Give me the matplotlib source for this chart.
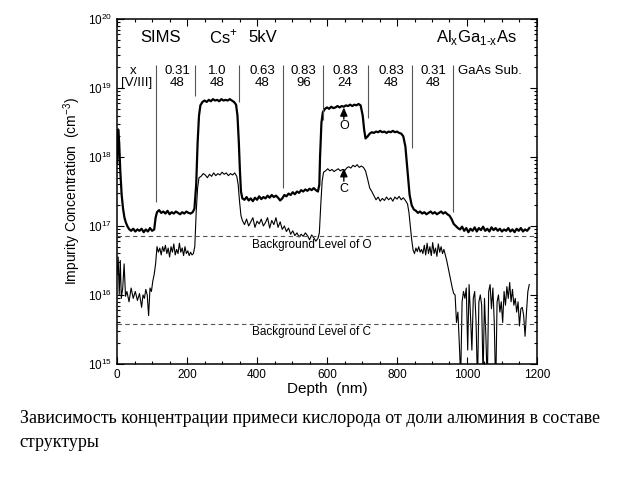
import numpy as np
import matplotlib.pyplot as plt
from matplotlib.ticker import MultipleLocator, LogLocator, NullFormatter

plt.rcParams['font.family'] = ['Liberation Sans', 'DejaVu Sans']
plt.rcParams['mathtext.fontset'] = 'custom'
plt.rcParams['mathtext.rm'] = 'Liberation Sans'

# oxygen profile: (depth nm, log10 concentration)
o_profile = [
    (0, 17.9), (3, 18.4), (6, 18.2), (9, 17.8), (13, 17.45), (17, 17.25), (21, 17.12), (25, 17.05),
    (30, 16.99), (35, 16.95), (40, 16.93), (46, 16.96), (52, 16.92), (58, 16.95), (64, 16.93),
    (70, 16.96), (76, 16.91), (82, 16.95), (88, 16.92), (94, 16.97), (100, 16.93), (106, 16.95),
    (110, 17.12), (114, 17.2), (120, 17.23), (126, 17.19), (132, 17.21), (138, 17.18), (144, 17.22),
    (150, 17.17), (156, 17.2), (162, 17.18), (168, 17.21), (174, 17.19), (180, 17.17), (186, 17.2),
    (192, 17.18), (198, 17.21), (204, 17.19), (210, 17.18), (216, 17.2), (221, 17.25),
    (226, 17.6), (230, 18.2), (234, 18.6), (238, 18.75), (244, 18.8), (250, 18.82), (256, 18.8),
    (262, 18.83), (268, 18.81), (274, 18.84), (280, 18.82), (286, 18.83), (292, 18.81), (298, 18.84),
    (304, 18.82), (310, 18.83), (316, 18.82), (322, 18.84), (328, 18.82), (334, 18.8), (340, 18.76),
    (344, 18.6), (348, 18.2), (351, 17.8), (354, 17.5), (358, 17.4),
    (364, 17.38), (370, 17.42), (376, 17.37), (382, 17.4), (388, 17.36), (394, 17.41), (400, 17.38),
    (406, 17.43), (412, 17.39), (418, 17.42), (424, 17.4), (430, 17.44), (436, 17.41), (442, 17.45),
    (448, 17.42), (454, 17.44), (460, 17.41), (466, 17.37), (472, 17.4), (478, 17.45), (484, 17.43),
    (490, 17.47), (496, 17.45), (502, 17.49), (508, 17.46), (514, 17.5), (520, 17.48), (526, 17.52),
    (532, 17.5), (538, 17.53), (544, 17.51), (550, 17.54), (556, 17.52), (562, 17.55), (568, 17.52),
    (574, 17.5), (578, 17.6),
    (580, 18.0), (584, 18.5), (588, 18.65), (594, 18.7), (600, 18.72), (606, 18.7), (612, 18.73),
    (618, 18.71), (624, 18.72), (630, 18.74), (636, 18.72), (642, 18.74), (648, 18.73), (654, 18.75),
    (660, 18.74), (666, 18.76), (672, 18.74), (678, 18.76), (684, 18.75), (690, 18.77), (696, 18.75),
    (702, 18.6), (706, 18.4), (710, 18.27), (716, 18.3), (722, 18.34), (728, 18.36), (734, 18.35),
    (740, 18.37), (746, 18.36), (752, 18.38), (758, 18.36), (764, 18.37), (770, 18.35), (776, 18.37),
    (782, 18.36), (788, 18.38), (794, 18.36), (800, 18.37), (806, 18.35), (812, 18.34), (818, 18.3),
    (824, 18.15), (830, 17.8), (836, 17.45), (842, 17.3), (848, 17.24),
    (854, 17.22), (860, 17.19), (866, 17.21), (872, 17.18), (878, 17.2), (884, 17.17), (890, 17.19),
    (896, 17.21), (902, 17.18), (908, 17.2), (914, 17.17), (920, 17.19), (926, 17.21), (932, 17.18),
    (938, 17.2), (944, 17.17), (950, 17.15), (956, 17.1), (962, 17.03), (968, 17.0), (974, 16.97),
    (980, 16.95), (986, 16.99), (992, 16.93), (998, 16.97), (1004, 16.91), (1010, 16.96), (1016, 16.93),
    (1022, 16.98), (1028, 16.92), (1034, 16.97), (1040, 16.94), (1046, 16.99), (1052, 16.93),
    (1058, 16.96), (1064, 16.92), (1070, 16.98), (1076, 16.94), (1082, 16.97), (1088, 16.93),
    (1094, 16.96), (1100, 16.92), (1106, 16.95), (1112, 16.93), (1118, 16.97), (1124, 16.92),
    (1130, 16.95), (1136, 16.91), (1142, 16.96), (1148, 16.93), (1154, 16.97), (1160, 16.92),
    (1166, 16.95), (1172, 16.93), (1178, 16.97),
]

# carbon profile: (depth nm, log10 concentration)
c_profile = [
    (0, 16.3), (3, 16.55), (6, 16.0), (9, 16.5), (12, 15.95), (16, 16.1), (20, 16.45), (24, 15.98),
    (28, 16.05), (34, 15.9), (40, 16.1), (46, 15.95), (52, 16.05), (58, 15.92), (64, 16.02),
    (70, 15.82), (74, 16.0), (78, 15.95), (82, 16.08), (86, 16.0), (90, 15.7), (94, 16.1),
    (98, 16.05), (102, 16.2), (106, 16.3),
    (110, 16.45), (114, 16.7), (118, 16.62), (122, 16.68), (126, 16.58), (130, 16.7), (134, 16.63),
    (138, 16.72), (142, 16.6), (146, 16.68), (150, 16.55), (154, 16.7), (158, 16.62), (162, 16.74),
    (166, 16.58), (170, 16.66), (174, 16.6), (178, 16.75), (182, 16.62), (186, 16.68), (190, 16.57),
    (194, 16.7), (198, 16.6), (202, 16.64), (206, 16.57), (210, 16.62), (214, 16.58), (218, 16.6),
    (222, 16.7),
    (226, 17.2), (230, 17.55), (234, 17.7), (240, 17.72), (246, 17.76), (252, 17.74), (258, 17.7),
    (264, 17.75), (270, 17.72), (276, 17.77), (282, 17.73), (288, 17.76), (294, 17.74), (300, 17.78),
    (306, 17.75), (312, 17.77), (318, 17.73), (324, 17.76), (330, 17.74), (336, 17.77), (342, 17.72),
    (346, 17.6), (350, 17.35), (354, 17.15),
    (358, 17.08), (364, 17.02), (370, 17.1), (376, 17.0), (382, 17.06), (388, 17.12), (394, 16.98),
    (400, 17.07), (406, 17.03), (412, 17.1), (418, 17.0), (424, 17.05), (430, 17.12), (436, 16.97),
    (442, 17.08), (448, 17.02), (454, 17.12), (460, 16.98), (466, 17.06), (472, 16.95), (478, 17.0),
    (484, 16.92), (490, 16.97), (496, 16.88), (502, 16.93), (508, 16.86), (514, 16.9), (520, 16.84),
    (526, 16.88), (532, 16.85), (538, 16.9), (544, 16.86), (550, 16.8), (556, 16.87), (562, 16.83),
    (568, 16.78), (574, 16.82), (578, 16.9),
    (582, 17.3), (586, 17.65), (590, 17.78), (596, 17.8), (602, 17.83), (608, 17.8), (614, 17.82),
    (620, 17.79), (626, 17.81), (632, 17.83), (638, 17.8), (644, 17.82), (650, 17.8), (656, 17.84),
    (662, 17.86), (668, 17.84), (674, 17.88), (680, 17.86), (686, 17.89), (692, 17.85), (698, 17.87),
    (704, 17.85), (710, 17.8), (716, 17.68), (722, 17.55), (728, 17.5), (734, 17.44),
    (740, 17.38), (746, 17.42), (752, 17.36), (758, 17.4), (764, 17.37), (770, 17.42), (776, 17.38),
    (782, 17.41), (788, 17.36), (794, 17.42), (800, 17.39), (806, 17.43), (812, 17.38), (818, 17.41),
    (824, 17.37), (830, 17.32), (834, 17.2), (838, 17.0), (842, 16.8), (846, 16.65),
    (850, 16.6), (854, 16.68), (858, 16.63), (862, 16.7), (866, 16.62), (870, 16.66), (874, 16.6),
    (878, 16.72), (882, 16.58), (886, 16.75), (890, 16.6), (894, 16.7), (898, 16.57), (902, 16.76),
    (906, 16.6), (910, 16.68), (914, 16.56), (918, 16.74), (922, 16.62), (926, 16.7), (930, 16.6),
    (934, 16.66), (938, 16.58), (942, 16.5), (946, 16.4), (950, 16.3), (954, 16.2), (958, 16.1),
    (962, 16.02), (966, 16.0), (970, 15.6), (974, 15.75), (978, 15.3), (982, 14.8), (986, 15.9),
    (990, 16.05), (994, 15.95), (998, 16.1), (1002, 15.2), (1006, 16.15), (1010, 15.7), (1014, 15.2),
    (1018, 15.95), (1022, 16.05), (1026, 15.6), (1030, 14.7), (1034, 15.9), (1038, 16.0),
    (1042, 15.85), (1046, 14.8), (1050, 15.95), (1054, 15.4), (1058, 14.7), (1062, 16.05),
    (1066, 16.15), (1070, 15.8), (1074, 16.1), (1078, 15.6), (1082, 14.6), (1086, 15.9), (1090, 16.0),
    (1094, 15.75), (1098, 15.9), (1102, 15.6), (1106, 16.05), (1110, 15.85), (1114, 16.12),
    (1118, 15.95), (1122, 16.18), (1126, 15.9), (1130, 16.08), (1134, 15.85), (1138, 15.95),
    (1142, 15.75), (1146, 15.9), (1150, 15.55), (1154, 15.8), (1158, 15.82), (1162, 15.7),
    (1166, 15.4), (1170, 15.75), (1174, 16.05), (1178, 16.15),
]

# layer boundaries (depth, log10 of lower end)
boundary_depth = [110, 223, 349, 474, 588, 718, 842, 961]
boundary_low = [17.35, 18.88, 18.8, 17.55, 18.54, 18.56, 18.13, 17.2]

layer_x = ['0.31', '1.0', '0.63', '0.83', '0.83', '0.83', '0.31']
layer_ratio = ['48', '48', '48', '96', '24', '48', '48']
layer_center = [171, 286, 414, 533, 651, 783, 903]

bg_oxygen = 7.2e16
bg_carbon = 3.8e15

o_depth, o_log = zip(*o_profile)
c_depth, c_log = zip(*c_profile)

fig = plt.figure(figsize=(6.4, 4.8), dpi=100)
ax = fig.add_axes([0.183, 0.242, 0.656, 0.718])

ax.plot(o_depth, 10 ** np.array(o_log), color='black', lw=1.6)
ax.plot(c_depth, 10 ** np.array(c_log), color='black', lw=0.8)

ax.axhline(bg_oxygen, color='#555555', lw=0.8, ls=(0, (4, 3)))
ax.axhline(bg_carbon, color='#555555', lw=0.8, ls=(0, (4, 3)))
ax.text(555, 10 ** 16.72, 'Background Level of O', ha='center', va='center', fontsize=8.5)
ax.text(555, 10 ** 15.46, 'Background Level of C', ha='center', va='center', fontsize=8.5)

ax.vlines(boundary_depth, 10 ** np.array(boundary_low), 10 ** 19.33, color='#555555', lw=0.8)

ax.text(46, 10 ** 19.25, 'x', ha='center', va='center', fontsize=9.5)
ax.text(57, 10 ** 19.08, '[V/III]', ha='center', va='center', fontsize=9.5)
for xc, a, r in zip(layer_center, layer_x, layer_ratio):
    ax.text(xc, 10 ** 19.25, a, ha='center', va='center', fontsize=9.5)
    ax.text(xc, 10 ** 19.08, r, ha='center', va='center', fontsize=9.5)
ax.text(1066, 10 ** 19.25, 'GaAs Sub.', ha='center', va='center', fontsize=9.5)

ax.text(66, 10 ** 19.74, 'SIMS', ha='left', va='center', fontsize=12)
ax.text(262, 10 ** 19.74, r'Cs$^\mathregular{+}$', ha='left', va='center', fontsize=12)
ax.text(374, 10 ** 19.74, '5kV', ha='left', va='center', fontsize=12)
ax.text(1143, 10 ** 19.74, r'Al$_\mathregular{x}$Ga$_\mathregular{1\text{-}x}$As', ha='right', va='center', fontsize=12)

arrow_style = dict(arrowstyle='-|>,head_length=0.5,head_width=0.22', color='black', lw=1.0,
                   mutation_scale=10, shrinkA=0, shrinkB=0)
ax.annotate('', xy=(648, 10 ** 18.72), xytext=(648, 10 ** 18.55), arrowprops=arrow_style)
ax.text(648, 10 ** 18.45, 'O', ha='center', va='center', fontsize=9)
ax.annotate('', xy=(648, 10 ** 17.84), xytext=(648, 10 ** 17.65), arrowprops=arrow_style)
ax.text(648, 10 ** 17.54, 'C', ha='center', va='center', fontsize=9)

ax.set_yscale('log')
ax.set_xlim(0, 1200)
ax.set_ylim(1e15, 1e20)
ax.xaxis.set_major_locator(MultipleLocator(200))
ax.xaxis.set_minor_locator(MultipleLocator(50))
ax.yaxis.set_major_locator(LogLocator(base=10, numticks=10))
ax.yaxis.set_minor_locator(LogLocator(base=10, subs=np.arange(2, 10), numticks=20))
ax.yaxis.set_minor_formatter(NullFormatter())
ax.tick_params(which='both', direction='in', top=True, right=True, labelsize=8.5, width=0.8)
ax.tick_params(which='major', length=5)
ax.tick_params(which='minor', length=2.5)
for s in ax.spines.values():
    s.set_linewidth(1.1)

ax.set_xlabel('Depth  (nm)', fontsize=11, labelpad=1)
ax.set_ylabel(r'Impurity Concentration  (cm$^\mathregular{-3}$)', fontsize=10, labelpad=4)

fig.text(0.031, 0.128, 'Зависимость концентрации примеси кислорода от доли алюминия в составе',
         fontsize=12.9, family=['Liberation Serif', 'DejaVu Serif'], va='center')
fig.text(0.031, 0.079, 'структуры', fontsize=12.9, family=['Liberation Serif', 'DejaVu Serif'], va='center')

fig.savefig('out.png', dpi=100)
